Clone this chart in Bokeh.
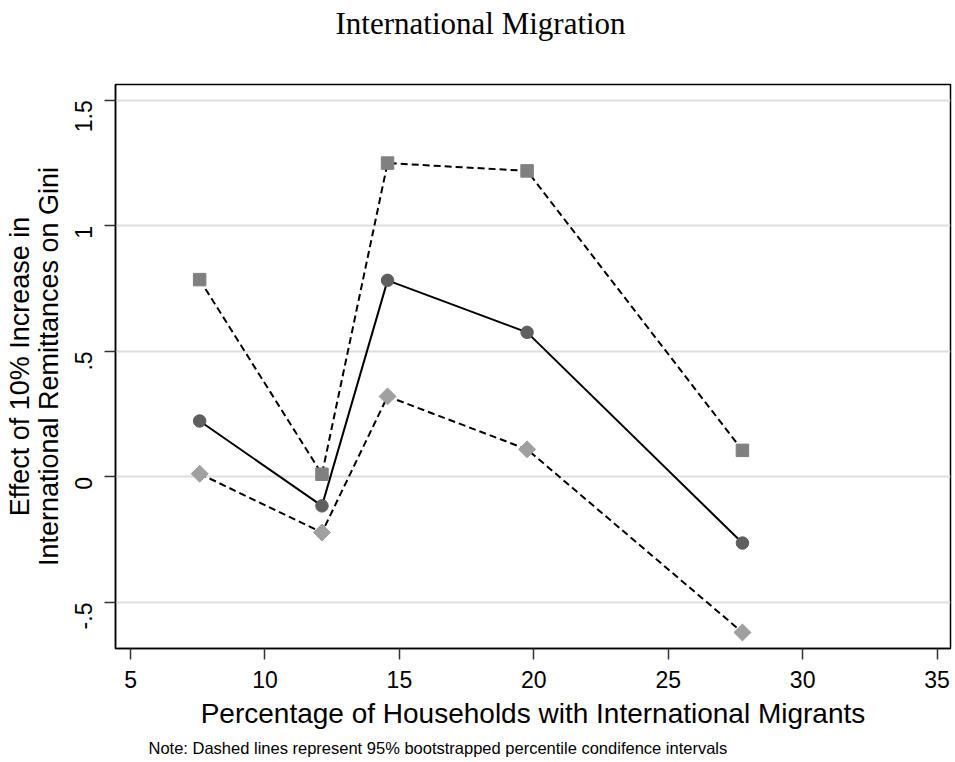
import math
from bokeh.plotting import figure
from bokeh.models import Range1d, FixedTicker, Title
from bokeh.embed import file_html
from bokeh.resources import INLINE

# Share of households with international migrants (x) and the estimated effect
# of a 10% rise in remittances on the Gini, with 95% bootstrap bounds.
pct = [7.57, 12.12, 14.56, 19.75, 27.76]
effect = [0.223, -0.115, 0.783, 0.576, -0.263]
upper = [0.786, 0.011, 1.250, 1.219, 0.106]
lower = [0.013, -0.221, 0.321, 0.110, -0.619]

x_ticks = [5, 10, 15, 20, 25, 30, 35]
y_ticks = [-0.5, 0, 0.5, 1, 1.5]
y_tick_labels = ["-.5", "0", ".5", "1", "1.5"]

SANS = "Liberation Sans"
SERIF = "Liberation Serif"

p = figure(width=955, height=762, output_backend="svg", toolbar_location=None,
           x_range=Range1d(4.44, 35.5), y_range=Range1d(-0.683, 1.563),
           min_border_left=115, min_border_right=5,
           min_border_top=84, min_border_bottom=114,
           background_fill_color="white", border_fill_color="white")

p.title.text = "International Migration"
p.title.text_font = SERIF
p.title.text_font_size = "31px"
p.title.text_font_style = "normal"
p.title.text_color = "black"
p.title.align = "left"
p.title.offset = 220
p.title.vertical_align = "top"

# empty spacer between the title and the plot frame
p.add_layout(Title(text=" ", text_font_size="24px", standoff=8), "above")

p.add_layout(Title(text="Note: Dashed lines represent 95% bootstrapped percentile condifence intervals",
                   text_font=SANS, text_font_size="16.5px", text_font_style="normal",
                   text_color="black", align="left", offset=33, standoff=10), "below")

p.outline_line_color = "black"
p.outline_line_width = 1.5

# grid: horizontal only
p.xgrid.visible = False
p.ygrid.ticker = FixedTicker(ticks=y_ticks)
p.ygrid.grid_line_color = "#dedede"
p.ygrid.grid_line_width = 2

for ax in (p.xaxis[0], p.yaxis[0]):
    ax.axis_line_color = "black"
    ax.axis_line_width = 1.5
    ax.major_tick_line_color = "#333333"
    ax.major_tick_line_width = 1.5
    ax.major_tick_in = 0
    ax.major_tick_out = 11
    ax.minor_tick_line_color = None
    ax.major_label_text_font = SANS
    ax.major_label_text_font_size = "23px"
    ax.major_label_text_color = "black"
    ax.axis_label_text_font = SANS
    ax.axis_label_text_font_style = "normal"
    ax.axis_label_text_color = "black"

p.xaxis.ticker = FixedTicker(ticks=x_ticks)
p.xaxis.major_label_standoff = 11
p.xaxis.axis_label = "Percentage of Households with International Migrants"
p.xaxis.axis_label_text_font_size = "28px"
p.xaxis.axis_label_standoff = 7

p.yaxis.ticker = FixedTicker(ticks=y_ticks)
p.yaxis.major_label_overrides = {t: s for t, s in zip(y_ticks, y_tick_labels)}
p.yaxis.major_label_orientation = math.pi / 2
p.yaxis.major_label_standoff = 21
p.yaxis.axis_label = "Effect of 10% Increase in\nInternational Remittances on Gini"
p.yaxis.axis_label_text_font_size = "27px"
p.yaxis.axis_label_text_line_height = 0.95
p.yaxis.axis_label_standoff = 0

# confidence bounds (dashed) and point estimates (solid)
p.line(pct, upper, line_color="black", line_width=2, line_dash="7 4")
p.line(pct, lower, line_color="black", line_width=2, line_dash="7 4")
p.line(pct, effect, line_color="black", line_width=2)

p.scatter(pct, upper, marker="square", size=12.5, fill_color="#808080", line_color="#808080")
p.scatter(pct, lower, marker="square", size=12, angle=math.pi / 4,
          fill_color="#a0a0a0", line_color="#a0a0a0")
p.scatter(pct, effect, marker="circle", size=12.5, fill_color="#5f5f5f", line_color="#5f5f5f")

open("out.html", "w").write(file_html(p, INLINE))
